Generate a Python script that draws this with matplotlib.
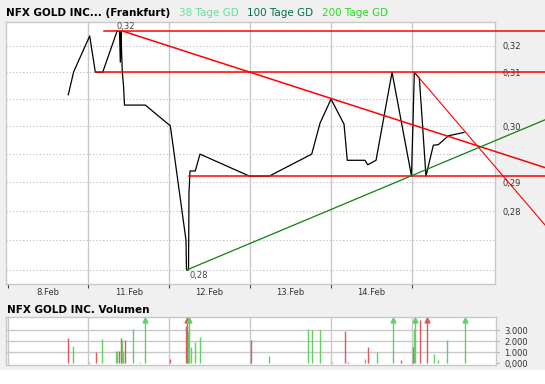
import numpy as np
import matplotlib.pyplot as plt
from matplotlib.ticker import NullLocator

# x = trading days since start of 8.Feb (fraction of a day), y = price in EUR
price_t = [0.752, 0.819, 1.017, 1.087, 1.178, 1.355, 1.386, 1.396, 1.405, 1.411,
           1.421, 1.436, 1.448, 1.705, 2.015, 2.209, 2.215, 2.240, 2.246, 2.259,
           2.324, 2.382, 2.993, 3.240, 3.765, 3.868, 4.004, 4.165, 4.205, 4.424,
           4.458, 4.561, 4.759, 5.000, 5.035, 5.097, 5.179, 5.270, 5.332, 5.457,
           5.650]
price = [0.3058, 0.3101, 0.3169, 0.3100, 0.3100, 0.3178, 0.3178, 0.3119, 0.3178, 0.3142,
         0.3100, 0.3074, 0.3039, 0.3039, 0.3001, 0.2800, 0.2750, 0.2750, 0.2883, 0.2920,
         0.2920, 0.2950, 0.2911, 0.2911, 0.2950, 0.3006, 0.3050, 0.3004, 0.2939, 0.2939,
         0.2931, 0.2939, 0.3100, 0.2911, 0.3100, 0.3089, 0.2911, 0.2966, 0.2967, 0.2983,
         0.2989]

# trend lines (start, end)
red_lines = [((1.198, 0.3178), (6.652, 0.3178)),
             ((1.090, 0.3100), (6.652, 0.3100)),
             ((2.251, 0.2911), (6.652, 0.2911)),
             ((1.433, 0.3178), (6.652, 0.2926))]
red_steep = ((5.035, 0.3100), (6.652, 0.2826))
green_line = ((2.218, 0.2750), (6.652, 0.3012))

day_labels = ['8.Feb', '11.Feb', '12.Feb', '13.Feb', '14.Feb']
grid_vals = [0.275, 0.28, 0.285, 0.29, 0.295, 0.30, 0.305, 0.31, 0.315]
grid_labels = ['', '', '0,28', '0,29', '', '0,30', '', '0,31', '0,32']

# volume (pieces); 6000 = above the scale (arrow)
vol_red_t = [0.752, 1.092, 1.384, 1.408, 1.458, 2.015, 2.213, 2.221, 3.005, 4.168,
             4.205, 4.453, 4.861, 5.010, 5.097, 5.183]
vol_red = [2300, 1030, 1120, 2300, 2120, 390, 3390, 6000, 2120, 2940,
           100, 1480, 300, 1480, 4150, 6000]
vol_green_t = [0.814, 1.012, 1.173, 1.347, 1.359, 1.421, 1.433, 1.557, 1.644, 1.702,
               2.238, 2.250, 2.275, 2.324, 2.386, 3.228, 3.710, 3.760, 3.859, 4.007,
               4.416, 4.564, 4.762, 5.022, 5.035, 5.270, 5.319, 5.431, 5.653]
vol_green = [1570, 100, 2210, 1120, 1120, 2120, 1120, 3120, 100, 6000,
             2970, 6000, 1480, 1960, 2390, 660, 3120, 3030, 3030, 100,
             390, 1030, 6000, 3120, 6000, 850, 300, 2120, 6000]
vol_ticks = [0, 1000, 2000, 3000]
vol_labels = ['0,000', '1.000', '2.000', '3.000']

W, H = 545, 384
fig = plt.figure(figsize=(W / 100, H / 100), dpi=100, facecolor='#f0f0f0')
fig.patches.append(plt.Rectangle((0, 0), 1, 14 / H, transform=fig.transFigure,
                                 facecolor='white', edgecolor='none', zorder=0))

grid_c = '#c8c8c8'
txt_c = '#333333'

ax = fig.add_axes([6.3 / W, 1 - 284 / H, 489 / W, 262.3 / H])
ax.set_yscale('log')
ax.set_xlim(-0.015, 6.037)
ax.set_ylim(0.27267, 0.31965)
ax.yaxis.set_minor_locator(NullLocator())
ax.set_yticks(grid_vals)
ax.set_yticklabels(grid_labels)
ax.yaxis.tick_right()
ax.tick_params(axis='y', length=0, pad=5, labelsize=6, labelcolor=txt_c)
for v in grid_vals:
    ax.axhline(v, color='#bbbbbb', lw=0.8, ls=(0, (1, 2)), zorder=1)
for d in range(1, 6):
    ax.axvline(d, color=grid_c, lw=1.0, zorder=1)
ax.set_xticks(range(6))
ax.set_xticklabels([])
ax.set_xticks(np.arange(len(day_labels)) + 0.5, minor=True)
ax.set_xticklabels(day_labels, minor=True)
ax.tick_params(axis='x', which='major', length=3, width=0.8, color='#444444')
ax.tick_params(axis='x', which='minor', length=0, pad=3, labelsize=6, labelcolor=txt_c)
for s in ax.spines.values():
    s.set_color(grid_c)
    s.set_linewidth(1.0)

ax.plot(price_t, price, color='black', lw=0.9, zorder=3)
for (x0, y0), (x1, y1) in red_lines:
    ax.plot([x0, x1], [y0, y1], color='#ff0000', lw=1.1, clip_on=False, zorder=4)
ax.plot([red_steep[0][0], red_steep[1][0]], [red_steep[0][1], red_steep[1][1]],
        color='#ff0000', lw=0.8, clip_on=False, zorder=4)
ax.plot([green_line[0][0], green_line[1][0]], [green_line[0][1], green_line[1][1]],
        color='#108010', lw=0.9, clip_on=False, zorder=4)

hi = int(np.argmax(price))
lo = int(np.argmin(price))
ax.annotate('0,32', (price_t[hi], price[hi]), xytext=(0, 3.6), textcoords='offset points',
            ha='left', va='center', fontsize=6, color='#444444')
ax.annotate('0,28', (price_t[lo + 1], price[lo]), xytext=(0.8, -4.2), textcoords='offset points',
            ha='left', va='center', fontsize=6, color='#444444')

fig.text(6 / W, 1 - 12.7 / H, 'NFX GOLD INC... (Frankfurt)', fontsize=7.5,
         fontweight='bold', va='center', ha='left', color='black')
fig.text(179 / W, 1 - 12.7 / H, '38 Tage GD', fontsize=7.5, va='center', color='#66e0a0')
fig.text(246.8 / W, 1 - 12.7 / H, '100 Tage GD', fontsize=7.5, va='center', color='#00704a')
fig.text(321.5 / W, 1 - 12.7 / H, '200 Tage GD', fontsize=7.5, va='center', color='#22dd22')

# volume panel
vax = fig.add_axes([6.3 / W, 1 - 365 / H, 489.4 / W, 47.7 / H])
vax.set_xlim(-0.015, 6.037)
vtop = 4182
vax.set_ylim(-155, vtop)
for d in range(0, 6):
    vax.axvline(d, color=grid_c, lw=1.0, zorder=1)
for v in vol_ticks[1:]:
    vax.axhline(v, color=grid_c, lw=1.0, zorder=1)
vax.set_xticks([])
vax.set_yticks(vol_ticks)
vax.set_yticklabels(vol_labels)
vax.yaxis.tick_right()
vax.tick_params(axis='y', length=2, width=0.8, color='#aaaaaa', pad=4,
                labelsize=6, labelcolor=txt_c)
for s in vax.spines.values():
    s.set_color(grid_c)
    s.set_linewidth(1.0)

cap = 3900
for t_, v_, c_ in [(vol_red_t, vol_red, '#dd5a5a'), (vol_green_t, vol_green, '#62d062')]:
    t_ = np.array(t_)
    v_ = np.array(v_, dtype=float)
    vax.vlines(t_, 0, np.minimum(v_, cap), color=c_, lw=1.0, zorder=3)
    over = v_ > vtop
    vax.plot(t_[over], np.full(over.sum(), cap), ls='none', marker='^',
             ms=3.5, color=c_, zorder=3, clip_on=False)

fig.text(6.7 / W, 1 - 310.3 / H, 'NFX GOLD INC. Volumen', fontsize=7.5,
         fontweight='bold', va='center', ha='left', color='black')

plt.savefig('out.png', dpi=100, facecolor=fig.get_facecolor())
